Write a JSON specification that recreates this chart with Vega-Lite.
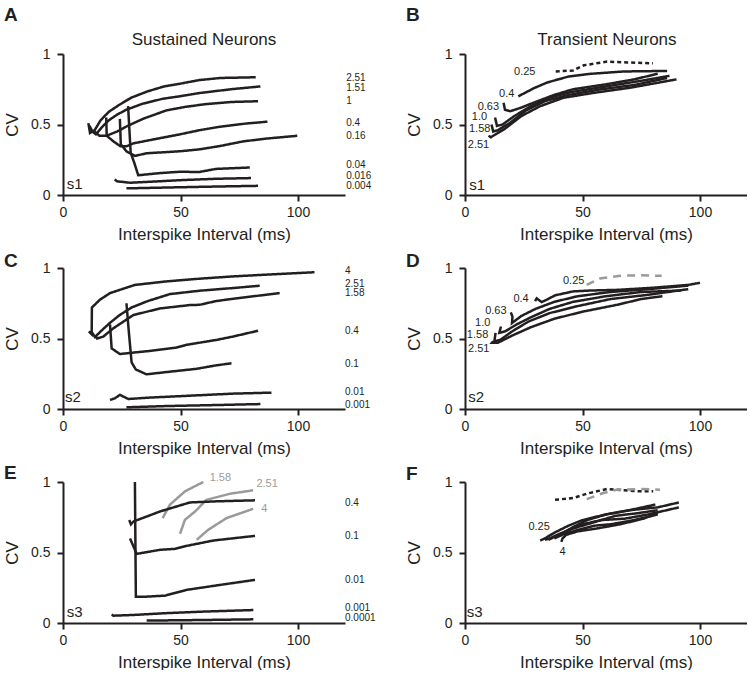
{
"$schema":"https://vega.github.io/schema/vega-lite/v6.json",
"padding":{"left":3,"top":5,"right":0,"bottom":0},
"columns":2,
"bounds":"flush",
"spacing":{"row":73,"column":120},
"config":{
 "font":"Liberation Sans",
 "view":{"stroke":null},
 "axis":{"grid":false,"domainColor":"#231f20","domainWidth":2,"tickColor":"#231f20","tickWidth":2,"tickSize":6,"labelFontSize":14,"labelColor":"#231f20","labelFlush":false,"titleFontSize":17,"titleFontWeight":"normal","titleColor":"#231f20"},
 "axisX":{"labelPadding":4,"titlePadding":7},
 "axisY":{"labelPadding":7,"titlePadding":9},
 "title":{"anchor":"start","frame":"group","dx":-59,"fontSize":19,"fontWeight":"bold","color":"#231f20"},
 "text":{"color":"#231f20"}
},
"datasets":{
"curves":[
{"panel":"A","curve":"2.51","type":"solid","i":0,"x":10.8,"y":0.51},{"panel":"A","curve":"2.51","type":"solid","i":1,"x":11.5,"y":0.44},{"panel":"A","curve":"2.51","type":"solid","i":2,"x":13.5,"y":0.46},{"panel":"A","curve":"2.51","type":"solid","i":3,"x":16,"y":0.53},{"panel":"A","curve":"2.51","type":"solid","i":4,"x":19.5,"y":0.59},{"panel":"A","curve":"2.51","type":"solid","i":5,"x":24,"y":0.64},{"panel":"A","curve":"2.51","type":"solid","i":6,"x":29,"y":0.69},{"panel":"A","curve":"2.51","type":"solid","i":7,"x":36,"y":0.735},{"panel":"A","curve":"2.51","type":"solid","i":8,"x":43,"y":0.77},{"panel":"A","curve":"2.51","type":"solid","i":9,"x":50,"y":0.79},{"panel":"A","curve":"2.51","type":"solid","i":10,"x":58,"y":0.815},{"panel":"A","curve":"2.51","type":"solid","i":11,"x":67,"y":0.83},{"panel":"A","curve":"2.51","type":"solid","i":12,"x":82,"y":0.835},
{"panel":"A","curve":"1.51","type":"solid","i":0,"x":11.3,"y":0.49},{"panel":"A","curve":"1.51","type":"solid","i":1,"x":12.5,"y":0.45},{"panel":"A","curve":"1.51","type":"solid","i":2,"x":14,"y":0.43},{"panel":"A","curve":"1.51","type":"solid","i":3,"x":16.5,"y":0.48},{"panel":"A","curve":"1.51","type":"solid","i":4,"x":19.5,"y":0.53},{"panel":"A","curve":"1.51","type":"solid","i":5,"x":23,"y":0.57},{"panel":"A","curve":"1.51","type":"solid","i":6,"x":27,"y":0.605},{"panel":"A","curve":"1.51","type":"solid","i":7,"x":34,"y":0.648},{"panel":"A","curve":"1.51","type":"solid","i":8,"x":42.6,"y":0.683},{"panel":"A","curve":"1.51","type":"solid","i":9,"x":49.7,"y":0.7},{"panel":"A","curve":"1.51","type":"solid","i":10,"x":58,"y":0.723},{"panel":"A","curve":"1.51","type":"solid","i":11,"x":72,"y":0.751},{"panel":"A","curve":"1.51","type":"solid","i":12,"x":84,"y":0.77},
{"panel":"A","curve":"1","type":"solid","i":0,"x":13.5,"y":0.45},{"panel":"A","curve":"1","type":"solid","i":1,"x":15.5,"y":0.42},{"panel":"A","curve":"1","type":"solid","i":2,"x":18.5,"y":0.42},{"panel":"A","curve":"1","type":"solid","i":3,"x":23,"y":0.45},{"panel":"A","curve":"1","type":"solid","i":4,"x":27.5,"y":0.49},{"panel":"A","curve":"1","type":"solid","i":5,"x":34,"y":0.54},{"panel":"A","curve":"1","type":"solid","i":6,"x":44,"y":0.6},{"panel":"A","curve":"1","type":"solid","i":7,"x":52,"y":0.625},{"panel":"A","curve":"1","type":"solid","i":8,"x":61,"y":0.645},{"panel":"A","curve":"1","type":"solid","i":9,"x":72,"y":0.66},{"panel":"A","curve":"1","type":"solid","i":10,"x":83,"y":0.665},
{"panel":"A","curve":"0.4","type":"solid","i":0,"x":18.4,"y":0.55},{"panel":"A","curve":"0.4","type":"solid","i":1,"x":18.6,"y":0.42},{"panel":"A","curve":"0.4","type":"solid","i":2,"x":21.5,"y":0.38},{"panel":"A","curve":"0.4","type":"solid","i":3,"x":24.5,"y":0.345},{"panel":"A","curve":"0.4","type":"solid","i":4,"x":27,"y":0.345},{"panel":"A","curve":"0.4","type":"solid","i":5,"x":29.9,"y":0.366},{"panel":"A","curve":"0.4","type":"solid","i":6,"x":38.4,"y":0.394},{"panel":"A","curve":"0.4","type":"solid","i":7,"x":49.7,"y":0.43},{"panel":"A","curve":"0.4","type":"solid","i":8,"x":58.2,"y":0.46},{"panel":"A","curve":"0.4","type":"solid","i":9,"x":66.7,"y":0.484},{"panel":"A","curve":"0.4","type":"solid","i":10,"x":78,"y":0.507},{"panel":"A","curve":"0.4","type":"solid","i":11,"x":87,"y":0.52},
{"panel":"A","curve":"0.16","type":"solid","i":0,"x":24.2,"y":0.54},{"panel":"A","curve":"0.16","type":"solid","i":1,"x":24.6,"y":0.36},{"panel":"A","curve":"0.16","type":"solid","i":2,"x":27,"y":0.31},{"panel":"A","curve":"0.16","type":"solid","i":3,"x":30.6,"y":0.277},{"panel":"A","curve":"0.16","type":"solid","i":4,"x":35.6,"y":0.296},{"panel":"A","curve":"0.16","type":"solid","i":5,"x":49.7,"y":0.31},{"panel":"A","curve":"0.16","type":"solid","i":6,"x":58.2,"y":0.324},{"panel":"A","curve":"0.16","type":"solid","i":7,"x":66.7,"y":0.347},{"panel":"A","curve":"0.16","type":"solid","i":8,"x":76.6,"y":0.38},{"panel":"A","curve":"0.16","type":"solid","i":9,"x":86.5,"y":0.4},{"panel":"A","curve":"0.16","type":"solid","i":10,"x":99.7,"y":0.42},
{"panel":"A","curve":"0.04","type":"solid","i":0,"x":27.7,"y":0.63},{"panel":"A","curve":"0.04","type":"solid","i":1,"x":28.3,"y":0.45},{"panel":"A","curve":"0.04","type":"solid","i":2,"x":28.8,"y":0.3},{"panel":"A","curve":"0.04","type":"solid","i":3,"x":30.5,"y":0.22},{"panel":"A","curve":"0.04","type":"solid","i":4,"x":32,"y":0.14},{"panel":"A","curve":"0.04","type":"solid","i":5,"x":41,"y":0.155},{"panel":"A","curve":"0.04","type":"solid","i":6,"x":49.7,"y":0.165},{"panel":"A","curve":"0.04","type":"solid","i":7,"x":58,"y":0.163},{"panel":"A","curve":"0.04","type":"solid","i":8,"x":65,"y":0.185},{"panel":"A","curve":"0.04","type":"solid","i":9,"x":79.5,"y":0.195},
{"panel":"A","curve":"0.016","type":"solid","i":0,"x":22,"y":0.11},{"panel":"A","curve":"0.016","type":"solid","i":1,"x":23,"y":0.097},{"panel":"A","curve":"0.016","type":"solid","i":2,"x":28.5,"y":0.087},{"panel":"A","curve":"0.016","type":"solid","i":3,"x":37,"y":0.094},{"panel":"A","curve":"0.016","type":"solid","i":4,"x":51,"y":0.106},{"panel":"A","curve":"0.016","type":"solid","i":5,"x":65,"y":0.115},{"panel":"A","curve":"0.016","type":"solid","i":6,"x":80,"y":0.12},
{"panel":"A","curve":"0.004","type":"solid","i":0,"x":27,"y":0.047},{"panel":"A","curve":"0.004","type":"solid","i":1,"x":44,"y":0.053},{"panel":"A","curve":"0.004","type":"solid","i":2,"x":65,"y":0.06},{"panel":"A","curve":"0.004","type":"solid","i":3,"x":83,"y":0.065},
{"panel":"B","curve":"0.25","type":"dotted","i":0,"x":38.6,"y":0.876},{"panel":"B","curve":"0.25","type":"dotted","i":1,"x":46,"y":0.883},{"panel":"B","curve":"0.25","type":"dotted","i":2,"x":50.6,"y":0.92},{"panel":"B","curve":"0.25","type":"dotted","i":3,"x":60.5,"y":0.946},{"panel":"B","curve":"0.25","type":"dotted","i":4,"x":69,"y":0.94},{"panel":"B","curve":"0.25","type":"dotted","i":5,"x":80,"y":0.934},
{"panel":"B","curve":"0.4","type":"solid","i":0,"x":22.7,"y":0.7},{"panel":"B","curve":"0.4","type":"solid","i":1,"x":29.4,"y":0.758},{"panel":"B","curve":"0.4","type":"solid","i":2,"x":35,"y":0.798},{"panel":"B","curve":"0.4","type":"solid","i":3,"x":44,"y":0.84},{"panel":"B","curve":"0.4","type":"solid","i":4,"x":53,"y":0.859},{"panel":"B","curve":"0.4","type":"solid","i":5,"x":67.5,"y":0.876},{"panel":"B","curve":"0.4","type":"solid","i":6,"x":86,"y":0.88},
{"panel":"B","curve":"0.63","type":"solid","i":0,"x":16.4,"y":0.655},{"panel":"B","curve":"0.63","type":"solid","i":1,"x":17,"y":0.605},{"panel":"B","curve":"0.63","type":"solid","i":2,"x":19.2,"y":0.594},{"panel":"B","curve":"0.63","type":"solid","i":3,"x":24,"y":0.62},{"panel":"B","curve":"0.63","type":"solid","i":4,"x":30,"y":0.66},{"panel":"B","curve":"0.63","type":"solid","i":5,"x":38,"y":0.71},{"panel":"B","curve":"0.63","type":"solid","i":6,"x":46,"y":0.75},{"panel":"B","curve":"0.63","type":"solid","i":7,"x":60,"y":0.785},{"panel":"B","curve":"0.63","type":"solid","i":8,"x":72,"y":0.82},{"panel":"B","curve":"0.63","type":"solid","i":9,"x":82,"y":0.86},
{"panel":"B","curve":"1.0","type":"solid","i":0,"x":12.8,"y":0.55},{"panel":"B","curve":"1.0","type":"solid","i":1,"x":13.6,"y":0.49},{"panel":"B","curve":"1.0","type":"solid","i":2,"x":16,"y":0.5},{"panel":"B","curve":"1.0","type":"solid","i":3,"x":21,"y":0.56},{"panel":"B","curve":"1.0","type":"solid","i":4,"x":28,"y":0.63},{"panel":"B","curve":"1.0","type":"solid","i":5,"x":36,"y":0.69},{"panel":"B","curve":"1.0","type":"solid","i":6,"x":45,"y":0.73},{"panel":"B","curve":"1.0","type":"solid","i":7,"x":60,"y":0.77},{"panel":"B","curve":"1.0","type":"solid","i":8,"x":75,"y":0.81},{"panel":"B","curve":"1.0","type":"solid","i":9,"x":87,"y":0.845},
{"panel":"B","curve":"1.58","type":"solid","i":0,"x":11.3,"y":0.5},{"panel":"B","curve":"1.58","type":"solid","i":1,"x":12,"y":0.45},{"panel":"B","curve":"1.58","type":"solid","i":2,"x":14,"y":0.46},{"panel":"B","curve":"1.58","type":"solid","i":3,"x":19,"y":0.51},{"panel":"B","curve":"1.58","type":"solid","i":4,"x":26,"y":0.6},{"panel":"B","curve":"1.58","type":"solid","i":5,"x":34,"y":0.665},{"panel":"B","curve":"1.58","type":"solid","i":6,"x":44,"y":0.71},{"panel":"B","curve":"1.58","type":"solid","i":7,"x":58,"y":0.75},{"panel":"B","curve":"1.58","type":"solid","i":8,"x":72,"y":0.78},{"panel":"B","curve":"1.58","type":"solid","i":9,"x":86,"y":0.83},
{"panel":"B","curve":"2.51","type":"solid","i":0,"x":10,"y":0.42},{"panel":"B","curve":"2.51","type":"solid","i":1,"x":11,"y":0.41},{"panel":"B","curve":"2.51","type":"solid","i":2,"x":13,"y":0.43},{"panel":"B","curve":"2.51","type":"solid","i":3,"x":17,"y":0.47},{"panel":"B","curve":"2.51","type":"solid","i":4,"x":24,"y":0.56},{"panel":"B","curve":"2.51","type":"solid","i":5,"x":32,"y":0.63},{"panel":"B","curve":"2.51","type":"solid","i":6,"x":42,"y":0.69},{"panel":"B","curve":"2.51","type":"solid","i":7,"x":55,"y":0.725},{"panel":"B","curve":"2.51","type":"solid","i":8,"x":70,"y":0.76},{"panel":"B","curve":"2.51","type":"solid","i":9,"x":90,"y":0.82},
{"panel":"C","curve":"4","type":"solid","i":0,"x":11,"y":0.55},{"panel":"C","curve":"4","type":"solid","i":1,"x":12.2,"y":0.53},{"panel":"C","curve":"4","type":"solid","i":2,"x":12.3,"y":0.72},{"panel":"C","curve":"4","type":"solid","i":3,"x":15.7,"y":0.775},{"panel":"C","curve":"4","type":"solid","i":4,"x":20,"y":0.822},{"panel":"C","curve":"4","type":"solid","i":5,"x":30.6,"y":0.88},{"panel":"C","curve":"4","type":"solid","i":6,"x":44,"y":0.905},{"panel":"C","curve":"4","type":"solid","i":7,"x":58,"y":0.924},{"panel":"C","curve":"4","type":"solid","i":8,"x":72,"y":0.94},{"panel":"C","curve":"4","type":"solid","i":9,"x":86.5,"y":0.953},{"panel":"C","curve":"4","type":"solid","i":10,"x":107,"y":0.97},
{"panel":"C","curve":"2.51","type":"solid","i":0,"x":12.5,"y":0.54},{"panel":"C","curve":"2.51","type":"solid","i":1,"x":13.6,"y":0.51},{"panel":"C","curve":"2.51","type":"solid","i":2,"x":16,"y":0.55},{"panel":"C","curve":"2.51","type":"solid","i":3,"x":19.9,"y":0.61},{"panel":"C","curve":"2.51","type":"solid","i":4,"x":24,"y":0.665},{"panel":"C","curve":"2.51","type":"solid","i":5,"x":29.2,"y":0.72},{"panel":"C","curve":"2.51","type":"solid","i":6,"x":36,"y":0.765},{"panel":"C","curve":"2.51","type":"solid","i":7,"x":45.5,"y":0.815},{"panel":"C","curve":"2.51","type":"solid","i":8,"x":58.2,"y":0.839},{"panel":"C","curve":"2.51","type":"solid","i":9,"x":72.4,"y":0.858},{"panel":"C","curve":"2.51","type":"solid","i":10,"x":83.7,"y":0.874},
{"panel":"C","curve":"1.58","type":"solid","i":0,"x":13.8,"y":0.52},{"panel":"C","curve":"1.58","type":"solid","i":1,"x":14.5,"y":0.5},{"panel":"C","curve":"1.58","type":"solid","i":2,"x":17.1,"y":0.513},{"panel":"C","curve":"1.58","type":"solid","i":3,"x":21.4,"y":0.572},{"panel":"C","curve":"1.58","type":"solid","i":4,"x":29.9,"y":0.666},{"panel":"C","curve":"1.58","type":"solid","i":5,"x":41.2,"y":0.713},{"panel":"C","curve":"1.58","type":"solid","i":6,"x":53.9,"y":0.737},{"panel":"C","curve":"1.58","type":"solid","i":7,"x":58.2,"y":0.739},{"panel":"C","curve":"1.58","type":"solid","i":8,"x":65,"y":0.765},{"panel":"C","curve":"1.58","type":"solid","i":9,"x":72.4,"y":0.782},{"panel":"C","curve":"1.58","type":"solid","i":10,"x":92.2,"y":0.822},
{"panel":"C","curve":"0.4","type":"solid","i":0,"x":20,"y":0.6},{"panel":"C","curve":"0.4","type":"solid","i":1,"x":20.7,"y":0.43},{"panel":"C","curve":"0.4","type":"solid","i":2,"x":24.2,"y":0.39},{"panel":"C","curve":"0.4","type":"solid","i":3,"x":30,"y":0.4},{"panel":"C","curve":"0.4","type":"solid","i":4,"x":37,"y":0.412},{"panel":"C","curve":"0.4","type":"solid","i":5,"x":48.3,"y":0.436},{"panel":"C","curve":"0.4","type":"solid","i":6,"x":52.5,"y":0.455},{"panel":"C","curve":"0.4","type":"solid","i":7,"x":65.3,"y":0.49},{"panel":"C","curve":"0.4","type":"solid","i":8,"x":72.4,"y":0.514},{"panel":"C","curve":"0.4","type":"solid","i":9,"x":83,"y":0.555},
{"panel":"C","curve":"0.1","type":"solid","i":0,"x":27,"y":0.75},{"panel":"C","curve":"0.1","type":"solid","i":1,"x":28,"y":0.55},{"panel":"C","curve":"0.1","type":"solid","i":2,"x":29.2,"y":0.33},{"panel":"C","curve":"0.1","type":"solid","i":3,"x":31,"y":0.28},{"panel":"C","curve":"0.1","type":"solid","i":4,"x":35.5,"y":0.246},{"panel":"C","curve":"0.1","type":"solid","i":5,"x":44,"y":0.262},{"panel":"C","curve":"0.1","type":"solid","i":6,"x":56.8,"y":0.285},{"panel":"C","curve":"0.1","type":"solid","i":7,"x":65.3,"y":0.31},{"panel":"C","curve":"0.1","type":"solid","i":8,"x":71.7,"y":0.324},
{"panel":"C","curve":"0.01","type":"solid","i":0,"x":20,"y":0.064},{"panel":"C","curve":"0.01","type":"solid","i":1,"x":22.1,"y":0.076},{"panel":"C","curve":"0.01","type":"solid","i":2,"x":24.2,"y":0.1},{"panel":"C","curve":"0.01","type":"solid","i":3,"x":27.8,"y":0.071},{"panel":"C","curve":"0.01","type":"solid","i":4,"x":37,"y":0.081},{"panel":"C","curve":"0.01","type":"solid","i":5,"x":51,"y":0.092},{"panel":"C","curve":"0.01","type":"solid","i":6,"x":72.4,"y":0.109},{"panel":"C","curve":"0.01","type":"solid","i":7,"x":88.7,"y":0.116},
{"panel":"C","curve":"0.001","type":"solid","i":0,"x":27,"y":0.012},{"panel":"C","curve":"0.001","type":"solid","i":1,"x":44,"y":0.021},{"panel":"C","curve":"0.001","type":"solid","i":2,"x":65,"y":0.028},{"panel":"C","curve":"0.001","type":"solid","i":3,"x":84,"y":0.035},
{"panel":"D","curve":"0.25","type":"greydash","i":0,"x":51.8,"y":0.88},{"panel":"D","curve":"0.25","type":"greydash","i":1,"x":57.4,"y":0.925},{"panel":"D","curve":"0.25","type":"greydash","i":2,"x":66,"y":0.945},{"panel":"D","curve":"0.25","type":"greydash","i":3,"x":74.5,"y":0.948},{"panel":"D","curve":"0.25","type":"greydash","i":4,"x":83.7,"y":0.945},
{"panel":"D","curve":"0.4","type":"solid","i":0,"x":29.8,"y":0.765},{"panel":"D","curve":"0.4","type":"solid","i":1,"x":30.5,"y":0.785},{"panel":"D","curve":"0.4","type":"solid","i":2,"x":32.6,"y":0.758},{"panel":"D","curve":"0.4","type":"solid","i":3,"x":34.8,"y":0.775},{"panel":"D","curve":"0.4","type":"solid","i":4,"x":38.3,"y":0.806},{"panel":"D","curve":"0.4","type":"solid","i":5,"x":46,"y":0.834},{"panel":"D","curve":"0.4","type":"solid","i":6,"x":53,"y":0.84},{"panel":"D","curve":"0.4","type":"solid","i":7,"x":65,"y":0.845},{"panel":"D","curve":"0.4","type":"solid","i":8,"x":80,"y":0.86},{"panel":"D","curve":"0.4","type":"solid","i":9,"x":95,"y":0.88},{"panel":"D","curve":"0.4","type":"solid","i":10,"x":100,"y":0.895},
{"panel":"D","curve":"0.63","type":"solid","i":0,"x":19.5,"y":0.685},{"panel":"D","curve":"0.63","type":"solid","i":1,"x":20.2,"y":0.655},{"panel":"D","curve":"0.63","type":"solid","i":2,"x":20,"y":0.61},{"panel":"D","curve":"0.63","type":"solid","i":3,"x":24,"y":0.66},{"panel":"D","curve":"0.63","type":"solid","i":4,"x":30,"y":0.71},{"panel":"D","curve":"0.63","type":"solid","i":5,"x":38,"y":0.76},{"panel":"D","curve":"0.63","type":"solid","i":6,"x":48,"y":0.8},{"panel":"D","curve":"0.63","type":"solid","i":7,"x":62,"y":0.83},{"panel":"D","curve":"0.63","type":"solid","i":8,"x":78,"y":0.85},{"panel":"D","curve":"0.63","type":"solid","i":9,"x":95,"y":0.875},
{"panel":"D","curve":"1.0","type":"solid","i":0,"x":15.3,"y":0.585},{"panel":"D","curve":"1.0","type":"solid","i":1,"x":14.6,"y":0.54},{"panel":"D","curve":"1.0","type":"solid","i":2,"x":17,"y":0.55},{"panel":"D","curve":"1.0","type":"solid","i":3,"x":22,"y":0.6},{"panel":"D","curve":"1.0","type":"solid","i":4,"x":28,"y":0.65},{"panel":"D","curve":"1.0","type":"solid","i":5,"x":36,"y":0.71},{"panel":"D","curve":"1.0","type":"solid","i":6,"x":46,"y":0.76},{"panel":"D","curve":"1.0","type":"solid","i":7,"x":60,"y":0.8},{"panel":"D","curve":"1.0","type":"solid","i":8,"x":75,"y":0.83},{"panel":"D","curve":"1.0","type":"solid","i":9,"x":92,"y":0.84},
{"panel":"D","curve":"1.58","type":"solid","i":0,"x":13,"y":0.54},{"panel":"D","curve":"1.58","type":"solid","i":1,"x":12.5,"y":0.48},{"panel":"D","curve":"1.58","type":"solid","i":2,"x":15,"y":0.49},{"panel":"D","curve":"1.58","type":"solid","i":3,"x":20,"y":0.55},{"panel":"D","curve":"1.58","type":"solid","i":4,"x":27,"y":0.62},{"panel":"D","curve":"1.58","type":"solid","i":5,"x":36,"y":0.68},{"panel":"D","curve":"1.58","type":"solid","i":6,"x":48,"y":0.73},{"panel":"D","curve":"1.58","type":"solid","i":7,"x":62,"y":0.78},{"panel":"D","curve":"1.58","type":"solid","i":8,"x":78,"y":0.81},{"panel":"D","curve":"1.58","type":"solid","i":9,"x":95,"y":0.85},
{"panel":"D","curve":"2.51","type":"solid","i":0,"x":12,"y":0.48},{"panel":"D","curve":"2.51","type":"solid","i":1,"x":11.5,"y":0.47},{"panel":"D","curve":"2.51","type":"solid","i":2,"x":14,"y":0.47},{"panel":"D","curve":"2.51","type":"solid","i":3,"x":20,"y":0.52},{"panel":"D","curve":"2.51","type":"solid","i":4,"x":28,"y":0.58},{"panel":"D","curve":"2.51","type":"solid","i":5,"x":38,"y":0.64},{"panel":"D","curve":"2.51","type":"solid","i":6,"x":50,"y":0.69},{"panel":"D","curve":"2.51","type":"solid","i":7,"x":65,"y":0.74},{"panel":"D","curve":"2.51","type":"solid","i":8,"x":75,"y":0.78},{"panel":"D","curve":"2.51","type":"solid","i":9,"x":84,"y":0.8},
{"panel":"E","curve":"1.58","type":"grey","i":0,"x":42.4,"y":0.744},{"panel":"E","curve":"1.58","type":"grey","i":1,"x":45.5,"y":0.839},{"panel":"E","curve":"1.58","type":"grey","i":2,"x":51.9,"y":0.934},{"panel":"E","curve":"1.58","type":"grey","i":3,"x":59.7,"y":1},
{"panel":"E","curve":"2.51","type":"grey","i":0,"x":49.8,"y":0.633},{"panel":"E","curve":"2.51","type":"grey","i":1,"x":51.9,"y":0.732},{"panel":"E","curve":"2.51","type":"grey","i":2,"x":56.2,"y":0.791},{"panel":"E","curve":"2.51","type":"grey","i":3,"x":61.1,"y":0.874},{"panel":"E","curve":"2.51","type":"grey","i":4,"x":71.1,"y":0.917},{"panel":"E","curve":"2.51","type":"grey","i":5,"x":80.9,"y":0.941},
{"panel":"E","curve":"4","type":"grey","i":0,"x":56.9,"y":0.59},{"panel":"E","curve":"4","type":"grey","i":1,"x":61.8,"y":0.661},{"panel":"E","curve":"4","type":"grey","i":2,"x":69.6,"y":0.744},{"panel":"E","curve":"4","type":"grey","i":3,"x":80.9,"y":0.81},
{"panel":"E","curve":"0.4","type":"solid","i":0,"x":28.2,"y":0.73},{"panel":"E","curve":"0.4","type":"solid","i":1,"x":28.9,"y":0.7},{"panel":"E","curve":"0.4","type":"solid","i":2,"x":30,"y":0.72},{"panel":"E","curve":"0.4","type":"solid","i":3,"x":41.3,"y":0.791},{"panel":"E","curve":"0.4","type":"solid","i":4,"x":54,"y":0.855},{"panel":"E","curve":"0.4","type":"solid","i":5,"x":65.4,"y":0.863},{"panel":"E","curve":"0.4","type":"solid","i":6,"x":81.7,"y":0.87},
{"panel":"E","curve":"0.1","type":"solid","i":0,"x":28.5,"y":0.6},{"panel":"E","curve":"0.1","type":"solid","i":1,"x":30.6,"y":0.52},{"panel":"E","curve":"0.1","type":"solid","i":2,"x":31.3,"y":0.49},{"panel":"E","curve":"0.1","type":"solid","i":3,"x":41.3,"y":0.519},{"panel":"E","curve":"0.1","type":"solid","i":4,"x":47.7,"y":0.526},{"panel":"E","curve":"0.1","type":"solid","i":5,"x":52.6,"y":0.547},{"panel":"E","curve":"0.1","type":"solid","i":6,"x":64,"y":0.585},{"panel":"E","curve":"0.1","type":"solid","i":7,"x":81.7,"y":0.618},
{"panel":"E","curve":"0.01","type":"solid","i":0,"x":30.6,"y":1},{"panel":"E","curve":"0.01","type":"solid","i":1,"x":31,"y":0.187},{"panel":"E","curve":"0.01","type":"solid","i":2,"x":35.6,"y":0.187},{"panel":"E","curve":"0.01","type":"solid","i":3,"x":43.4,"y":0.194},{"panel":"E","curve":"0.01","type":"solid","i":4,"x":52.6,"y":0.235},{"panel":"E","curve":"0.01","type":"solid","i":5,"x":66.8,"y":0.27},{"panel":"E","curve":"0.01","type":"solid","i":6,"x":81.7,"y":0.306},
{"panel":"E","curve":"0.001","type":"solid","i":0,"x":20.7,"y":0.06},{"panel":"E","curve":"0.001","type":"solid","i":1,"x":21.5,"y":0.052},{"panel":"E","curve":"0.001","type":"solid","i":2,"x":29.9,"y":0.057},{"panel":"E","curve":"0.001","type":"solid","i":3,"x":44.1,"y":0.07},{"panel":"E","curve":"0.001","type":"solid","i":4,"x":58.3,"y":0.08},{"panel":"E","curve":"0.001","type":"solid","i":5,"x":81,"y":0.092},
{"panel":"E","curve":"0.0001","type":"solid","i":0,"x":35.6,"y":0.017},{"panel":"E","curve":"0.0001","type":"solid","i":1,"x":58.3,"y":0.021},{"panel":"E","curve":"0.0001","type":"solid","i":2,"x":81,"y":0.026},
{"panel":"F","curve":"0.25","type":"dotted","i":0,"x":38.3,"y":0.874},{"panel":"F","curve":"0.25","type":"dotted","i":1,"x":46.1,"y":0.886},{"panel":"F","curve":"0.25","type":"dotted","i":2,"x":51.8,"y":0.917},{"panel":"F","curve":"0.25","type":"dotted","i":3,"x":60.3,"y":0.95},{"panel":"F","curve":"0.25","type":"dotted","i":4,"x":67.4,"y":0.941},{"panel":"F","curve":"0.25","type":"dotted","i":5,"x":74.5,"y":0.934},{"panel":"F","curve":"0.25","type":"dotted","i":6,"x":80.1,"y":0.934},
{"panel":"F","curve":"g","type":"greydash","i":0,"x":51.8,"y":0.879},{"panel":"F","curve":"g","type":"greydash","i":1,"x":58.9,"y":0.922},{"panel":"F","curve":"g","type":"greydash","i":2,"x":64.5,"y":0.945},{"panel":"F","curve":"g","type":"greydash","i":3,"x":74.5,"y":0.95},{"panel":"F","curve":"g","type":"greydash","i":4,"x":83,"y":0.945},
{"panel":"F","curve":"c1","type":"solid","i":0,"x":32,"y":0.585},{"panel":"F","curve":"c1","type":"solid","i":1,"x":34,"y":0.6},{"panel":"F","curve":"c1","type":"solid","i":2,"x":38,"y":0.64},{"panel":"F","curve":"c1","type":"solid","i":3,"x":44,"y":0.69},{"panel":"F","curve":"c1","type":"solid","i":4,"x":50,"y":0.73},{"panel":"F","curve":"c1","type":"solid","i":5,"x":60,"y":0.77},{"panel":"F","curve":"c1","type":"solid","i":6,"x":70,"y":0.8},{"panel":"F","curve":"c1","type":"solid","i":7,"x":82,"y":0.82},{"panel":"F","curve":"c1","type":"solid","i":8,"x":91,"y":0.855},
{"panel":"F","curve":"c2","type":"solid","i":0,"x":34,"y":0.59},{"panel":"F","curve":"c2","type":"solid","i":1,"x":36,"y":0.6},{"panel":"F","curve":"c2","type":"solid","i":2,"x":40,"y":0.63},{"panel":"F","curve":"c2","type":"solid","i":3,"x":46,"y":0.67},{"panel":"F","curve":"c2","type":"solid","i":4,"x":54,"y":0.71},{"panel":"F","curve":"c2","type":"solid","i":5,"x":64,"y":0.76},{"panel":"F","curve":"c2","type":"solid","i":6,"x":74,"y":0.78},{"panel":"F","curve":"c2","type":"solid","i":7,"x":82,"y":0.8},
{"panel":"F","curve":"c3","type":"solid","i":0,"x":35.5,"y":0.59},{"panel":"F","curve":"c3","type":"solid","i":1,"x":38,"y":0.61},{"panel":"F","curve":"c3","type":"solid","i":2,"x":44,"y":0.66},{"panel":"F","curve":"c3","type":"solid","i":3,"x":50,"y":0.7},{"panel":"F","curve":"c3","type":"solid","i":4,"x":58,"y":0.73},{"panel":"F","curve":"c3","type":"solid","i":5,"x":68,"y":0.74},{"panel":"F","curve":"c3","type":"solid","i":6,"x":78,"y":0.77},{"panel":"F","curve":"c3","type":"solid","i":7,"x":91,"y":0.82},
{"panel":"F","curve":"c4","type":"solid","i":0,"x":38,"y":0.6},{"panel":"F","curve":"c4","type":"solid","i":1,"x":42,"y":0.63},{"panel":"F","curve":"c4","type":"solid","i":2,"x":48,"y":0.66},{"panel":"F","curve":"c4","type":"solid","i":3,"x":55,"y":0.69},{"panel":"F","curve":"c4","type":"solid","i":4,"x":62,"y":0.7},{"panel":"F","curve":"c4","type":"solid","i":5,"x":72,"y":0.73},{"panel":"F","curve":"c4","type":"solid","i":6,"x":82,"y":0.77},
{"panel":"F","curve":"c5","type":"solid","i":0,"x":41,"y":0.575},{"panel":"F","curve":"c5","type":"solid","i":1,"x":41.5,"y":0.6},{"panel":"F","curve":"c5","type":"solid","i":2,"x":43,"y":0.625},{"panel":"F","curve":"c5","type":"solid","i":3,"x":48,"y":0.65},{"panel":"F","curve":"c5","type":"solid","i":4,"x":56,"y":0.67},{"panel":"F","curve":"c5","type":"solid","i":5,"x":66,"y":0.7},{"panel":"F","curve":"c5","type":"solid","i":6,"x":76,"y":0.74},{"panel":"F","curve":"c5","type":"solid","i":7,"x":82,"y":0.78},
{"panel":"F","curve":"c6","type":"solid","i":0,"x":40,"y":0.62},{"panel":"F","curve":"c6","type":"solid","i":1,"x":46,"y":0.68},{"panel":"F","curve":"c6","type":"solid","i":2,"x":52,"y":0.73},{"panel":"F","curve":"c6","type":"solid","i":3,"x":60,"y":0.77},{"panel":"F","curve":"c6","type":"solid","i":4,"x":70,"y":0.8},{"panel":"F","curve":"c6","type":"solid","i":5,"x":81,"y":0.84}
],
"labels":[
{"panel":"A","kind":"end","text":"2.51","x":120.5,"y":0.832},{"panel":"A","kind":"end","text":"1.51","x":120.5,"y":0.76},{"panel":"A","kind":"end","text":"1","x":120.5,"y":0.664},{"panel":"A","kind":"end","text":"0.4","x":120.5,"y":0.512},{"panel":"A","kind":"end","text":"0.16","x":120.5,"y":0.418},{"panel":"A","kind":"end","text":"0.04","x":120.5,"y":0.212},{"panel":"A","kind":"end","text":"0.016","x":120.5,"y":0.136},{"panel":"A","kind":"end","text":"0.004","x":120.5,"y":0.064},
{"panel":"C","kind":"end","text":"4","x":120,"y":0.976},{"panel":"C","kind":"end","text":"2.51","x":120,"y":0.89},{"panel":"C","kind":"end","text":"1.58","x":120,"y":0.82},{"panel":"C","kind":"end","text":"0.4","x":120,"y":0.554},{"panel":"C","kind":"end","text":"0.1","x":120,"y":0.318},{"panel":"C","kind":"end","text":"0.01","x":120,"y":0.123},{"panel":"C","kind":"end","text":"0.001","x":120,"y":0.028},
{"panel":"E","kind":"end","text":"0.4","x":120,"y":0.851},{"panel":"E","kind":"end","text":"0.1","x":120,"y":0.618},{"panel":"E","kind":"end","text":"0.01","x":120,"y":0.306},{"panel":"E","kind":"end","text":"0.001","x":120,"y":0.104},{"panel":"E","kind":"end","text":"0.0001","x":120,"y":0.036},
{"panel":"B","kind":"inline","text":"0.25","x":30,"y":0.87},{"panel":"B","kind":"inline","text":"0.4","x":21,"y":0.716},{"panel":"B","kind":"inline","text":"0.63","x":14.5,"y":0.627},{"panel":"B","kind":"inline","text":"1.0","x":9.4,"y":0.55},{"panel":"B","kind":"inline","text":"1.58","x":10.8,"y":0.467},{"panel":"B","kind":"inline","text":"2.51","x":10.3,"y":0.357},
{"panel":"D","kind":"inline","text":"0.25","x":50.8,"y":0.905},{"panel":"D","kind":"inline","text":"0.4","x":27.1,"y":0.778},{"panel":"D","kind":"inline","text":"0.63","x":17.7,"y":0.692},{"panel":"D","kind":"inline","text":"1.0","x":10.8,"y":0.611},{"panel":"D","kind":"inline","text":"1.58","x":9.9,"y":0.527},{"panel":"D","kind":"inline","text":"2.51","x":10.4,"y":0.428},
{"panel":"F","kind":"inline","text":"0.25","x":36.1,"y":0.68},{"panel":"F","kind":"inline","text":"4","x":42.8,"y":0.507},
{"panel":"E","kind":"grey","text":"1.58","x":62.4,"y":1.028},{"panel":"E","kind":"grey","text":"2.51","x":82.3,"y":0.986},{"panel":"E","kind":"grey","text":"4","x":84.4,"y":0.808},
{"panel":"A","kind":"session","text":"s1","x":1.6,"y":0.075},{"panel":"B","kind":"session","text":"s1","x":1.8,"y":0.07},{"panel":"C","kind":"session","text":"s2","x":0.9,"y":0.087},{"panel":"D","kind":"session","text":"s2","x":1.4,"y":0.087},{"panel":"E","kind":"session","text":"s3","x":1.6,"y":0.08},{"panel":"F","kind":"session","text":"s3","x":0.7,"y":0.08},
{"panel":"A","kind":"header","text":"Sustained Neurons","x":60,"y":1.102},{"panel":"B","kind":"header","text":"Transient Neurons","x":60.4,"y":1.102}
]
},
"concat":[
{"width":282,"height":141,"title":{"text":"A","offset":6},
 "encoding":{"x":{"field":"x","type":"quantitative","scale":{"domain":[0,120]},"axis":{"values":[0,50,100],"format":"d","title":"Interspike Interval (ms)"}},"y":{"field":"y","type":"quantitative","scale":{"domain":[0,1]},"axis":{"values":[0,0.5,1],"format":"~g","title":"CV"}}},
 "layer":[
  {"data":{"name":"curves"},"transform":[{"filter":"datum.panel==='A'"}],"mark":{"type":"line","strokeWidth":2.5},"encoding":{"detail":{"field":"curve"},"order":{"field":"i","type":"quantitative"},"color":{"field":"type","type":"nominal","scale":{"domain":["solid","dotted","grey","greydash"],"range":["#231f20","#231f20","#9a9a9a","#9a9a9a"]},"legend":null},"strokeDash":{"field":"type","type":"nominal","scale":{"domain":["solid","dotted","grey","greydash"],"range":[[1,0],[4,3],[1,0],[8,6]]},"legend":null}}},
  {"data":{"name":"labels"},"transform":[{"filter":"datum.panel==='A' && datum.kind==='end'"}],"mark":{"type":"text","align":"left","baseline":"middle","fontSize":10},"encoding":{"text":{"field":"text"}}},
  {"data":{"name":"labels"},"transform":[{"filter":"datum.panel==='A' && datum.kind==='session'"}],"mark":{"type":"text","align":"left","baseline":"middle","fontSize":15},"encoding":{"text":{"field":"text"}}},
  {"data":{"name":"labels"},"transform":[{"filter":"datum.panel==='A' && datum.kind==='header'"}],"mark":{"type":"text","align":"center","baseline":"middle","fontSize":17},"encoding":{"text":{"field":"text"}}}
 ]},
{"width":282,"height":141,"title":{"text":"B","offset":6},
 "encoding":{"x":{"field":"x","type":"quantitative","scale":{"domain":[0,120]},"axis":{"values":[0,50,100],"format":"d","title":"Interspike Interval (ms)"}},"y":{"field":"y","type":"quantitative","scale":{"domain":[0,1]},"axis":{"values":[0,0.5,1],"format":"~g","title":"CV"}}},
 "layer":[
  {"data":{"name":"curves"},"transform":[{"filter":"datum.panel==='B'"}],"mark":{"type":"line","strokeWidth":2.5},"encoding":{"detail":{"field":"curve"},"order":{"field":"i","type":"quantitative"},"color":{"field":"type","type":"nominal","scale":{"domain":["solid","dotted","grey","greydash"],"range":["#231f20","#231f20","#9a9a9a","#9a9a9a"]},"legend":null},"strokeDash":{"field":"type","type":"nominal","scale":{"domain":["solid","dotted","grey","greydash"],"range":[[1,0],[4,3],[1,0],[8,6]]},"legend":null}}},
  {"data":{"name":"labels"},"transform":[{"filter":"datum.panel==='B' && datum.kind==='inline'"}],"mark":{"type":"text","align":"right","baseline":"middle","fontSize":11},"encoding":{"text":{"field":"text"}}},
  {"data":{"name":"labels"},"transform":[{"filter":"datum.panel==='B' && datum.kind==='session'"}],"mark":{"type":"text","align":"left","baseline":"middle","fontSize":15},"encoding":{"text":{"field":"text"}}},
  {"data":{"name":"labels"},"transform":[{"filter":"datum.panel==='B' && datum.kind==='header'"}],"mark":{"type":"text","align":"center","baseline":"middle","fontSize":17},"encoding":{"text":{"field":"text"}}}
 ]},
{"width":282,"height":141,"title":{"text":"C","offset":-10},
 "encoding":{"x":{"field":"x","type":"quantitative","scale":{"domain":[0,120]},"axis":{"values":[0,50,100],"format":"d","title":"Interspike Interval (ms)"}},"y":{"field":"y","type":"quantitative","scale":{"domain":[0,1]},"axis":{"values":[0,0.5,1],"format":"~g","title":"CV"}}},
 "layer":[
  {"data":{"name":"curves"},"transform":[{"filter":"datum.panel==='C'"}],"mark":{"type":"line","strokeWidth":2.5},"encoding":{"detail":{"field":"curve"},"order":{"field":"i","type":"quantitative"},"color":{"field":"type","type":"nominal","scale":{"domain":["solid","dotted","grey","greydash"],"range":["#231f20","#231f20","#9a9a9a","#9a9a9a"]},"legend":null},"strokeDash":{"field":"type","type":"nominal","scale":{"domain":["solid","dotted","grey","greydash"],"range":[[1,0],[4,3],[1,0],[8,6]]},"legend":null}}},
  {"data":{"name":"labels"},"transform":[{"filter":"datum.panel==='C' && datum.kind==='end'"}],"mark":{"type":"text","align":"left","baseline":"middle","fontSize":10},"encoding":{"text":{"field":"text"}}},
  {"data":{"name":"labels"},"transform":[{"filter":"datum.panel==='C' && datum.kind==='session'"}],"mark":{"type":"text","align":"left","baseline":"middle","fontSize":15},"encoding":{"text":{"field":"text"}}}
 ]},
{"width":282,"height":141,"title":{"text":"D","offset":-10},
 "encoding":{"x":{"field":"x","type":"quantitative","scale":{"domain":[0,120]},"axis":{"values":[0,50,100],"format":"d","title":"Interspike Interval (ms)"}},"y":{"field":"y","type":"quantitative","scale":{"domain":[0,1]},"axis":{"values":[0,0.5,1],"format":"~g","title":"CV"}}},
 "layer":[
  {"data":{"name":"curves"},"transform":[{"filter":"datum.panel==='D'"}],"mark":{"type":"line","strokeWidth":2.5},"encoding":{"detail":{"field":"curve"},"order":{"field":"i","type":"quantitative"},"color":{"field":"type","type":"nominal","scale":{"domain":["solid","dotted","grey","greydash"],"range":["#231f20","#231f20","#9a9a9a","#9a9a9a"]},"legend":null},"strokeDash":{"field":"type","type":"nominal","scale":{"domain":["solid","dotted","grey","greydash"],"range":[[1,0],[4,3],[1,0],[8,6]]},"legend":null}}},
  {"data":{"name":"labels"},"transform":[{"filter":"datum.panel==='D' && datum.kind==='inline'"}],"mark":{"type":"text","align":"right","baseline":"middle","fontSize":11},"encoding":{"text":{"field":"text"}}},
  {"data":{"name":"labels"},"transform":[{"filter":"datum.panel==='D' && datum.kind==='session'"}],"mark":{"type":"text","align":"left","baseline":"middle","fontSize":15},"encoding":{"text":{"field":"text"}}}
 ]},
{"width":282,"height":141,"title":{"text":"E","offset":-11},
 "encoding":{"x":{"field":"x","type":"quantitative","scale":{"domain":[0,120]},"axis":{"values":[0,50,100],"format":"d","title":"Interspike Interval (ms)"}},"y":{"field":"y","type":"quantitative","scale":{"domain":[0,1]},"axis":{"values":[0,0.5,1],"format":"~g","title":"CV"}}},
 "layer":[
  {"data":{"name":"curves"},"transform":[{"filter":"datum.panel==='E'"}],"mark":{"type":"line","strokeWidth":2.5},"encoding":{"detail":{"field":"curve"},"order":{"field":"i","type":"quantitative"},"color":{"field":"type","type":"nominal","scale":{"domain":["solid","dotted","grey","greydash"],"range":["#231f20","#231f20","#9a9a9a","#9a9a9a"]},"legend":null},"strokeDash":{"field":"type","type":"nominal","scale":{"domain":["solid","dotted","grey","greydash"],"range":[[1,0],[4,3],[1,0],[8,6]]},"legend":null}}},
  {"data":{"name":"labels"},"transform":[{"filter":"datum.panel==='E' && datum.kind==='end'"}],"mark":{"type":"text","align":"left","baseline":"middle","fontSize":10},"encoding":{"text":{"field":"text"}}},
  {"data":{"name":"labels"},"transform":[{"filter":"datum.panel==='E' && datum.kind==='grey'"}],"mark":{"type":"text","align":"left","baseline":"middle","fontSize":11,"color":"#9a9a9a"},"encoding":{"text":{"field":"text"}}},
  {"data":{"name":"labels"},"transform":[{"filter":"datum.panel==='E' && datum.kind==='session'"}],"mark":{"type":"text","align":"left","baseline":"middle","fontSize":15},"encoding":{"text":{"field":"text"}}}
 ]},
{"width":282,"height":141,"title":{"text":"F","offset":-9},
 "encoding":{"x":{"field":"x","type":"quantitative","scale":{"domain":[0,120]},"axis":{"values":[0,50,100],"format":"d","title":"Interspike Interval (ms)"}},"y":{"field":"y","type":"quantitative","scale":{"domain":[0,1]},"axis":{"values":[0,0.5,1],"format":"~g","title":"CV"}}},
 "layer":[
  {"data":{"name":"curves"},"transform":[{"filter":"datum.panel==='F'"}],"mark":{"type":"line","strokeWidth":2.5},"encoding":{"detail":{"field":"curve"},"order":{"field":"i","type":"quantitative"},"color":{"field":"type","type":"nominal","scale":{"domain":["solid","dotted","grey","greydash"],"range":["#231f20","#231f20","#9a9a9a","#9a9a9a"]},"legend":null},"strokeDash":{"field":"type","type":"nominal","scale":{"domain":["solid","dotted","grey","greydash"],"range":[[1,0],[4,3],[1,0],[8,6]]},"legend":null}}},
  {"data":{"name":"labels"},"transform":[{"filter":"datum.panel==='F' && datum.kind==='inline'"}],"mark":{"type":"text","align":"right","baseline":"middle","fontSize":11},"encoding":{"text":{"field":"text"}}},
  {"data":{"name":"labels"},"transform":[{"filter":"datum.panel==='F' && datum.kind==='session'"}],"mark":{"type":"text","align":"left","baseline":"middle","fontSize":15},"encoding":{"text":{"field":"text"}}}
 ]}
]
}
